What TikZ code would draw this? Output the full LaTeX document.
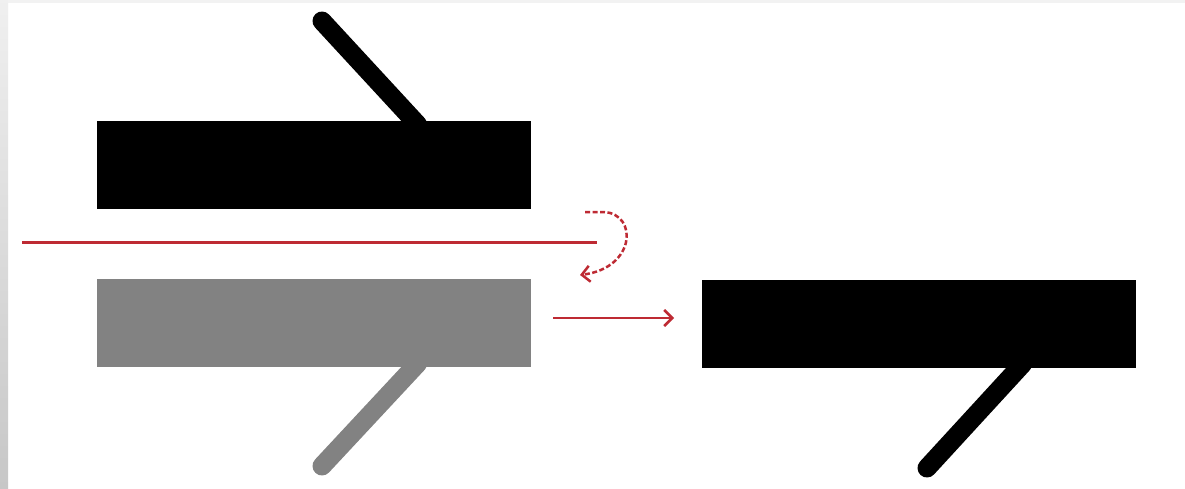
\documentclass[tikz,border=0pt]{standalone}
\usetikzlibrary{arrows.meta,calc}
\definecolor{redline}{HTML}{BE2A33}
\definecolor{plategray}{HTML}{828282}
\begin{document}
\begin{tikzpicture}[x=1pt,y=-1pt,
  plate/.style={draw=none,rectangle,minimum width=434pt,minimum height=88pt,inner sep=0pt},
  handle/.style={line width=19pt,line cap=round},
  ray/.style={draw=redline,line width=2.5pt},
  tip/.style={-{Straight Barb[length=8pt,width=16pt,line width=2.5pt]}}]
\useasboundingbox (0,0) rectangle (1185,489);
\fill[white] (0,0) rectangle (1185,489);
\shade[top color=black!6,bottom color=black!22] (0,0) rectangle (8,489);
\fill[black!5] (8,0) rectangle (1185,3);
% plates
\node[plate,fill=black] (top) at (314,165) {};
\node[plate,fill=plategray] (mid) at (314,323) {};
\node[plate,fill=black] (right) at (919,323.5) {};
% handles
\coordinate (h1) at ($(top.north west)+(321,0)$);
\coordinate (h1e) at (322,21);
\draw[handle,black] ($(h1)+(0,4)$) -- (h1e);
\coordinate (h2) at ($(mid.south west)+(321,0)$);
\coordinate (h2e) at (322,466);
\draw[handle,plategray] ($(h2)+(0,-4)$) -- (h2e);
\coordinate (h3) at ($(right.south west)+(321,0)$);
\coordinate (h3e) at (927,468);
\draw[handle,black] ($(h3)+(0,-4)$) -- (h3e);
% rays
\coordinate (inA) at (22,242);
\coordinate (inB) at (597,242);
\draw[ray,line width=3pt] (inA) -- (inB);
\coordinate (rA) at (585,212);
\coordinate (rB) at (604,212);
\coordinate (rC) at (580,275);
\draw[ray,line width=2.5pt,dash pattern=on 5pt off 2.5pt,tip] (rA) -- (rB) .. controls (638,214) and (636,268) .. (rC);
\coordinate (tA) at (553,318);
\coordinate (tB) at (674,318);
\draw[ray,tip] (tA) -- (tB);
\end{tikzpicture}
\end{document}
